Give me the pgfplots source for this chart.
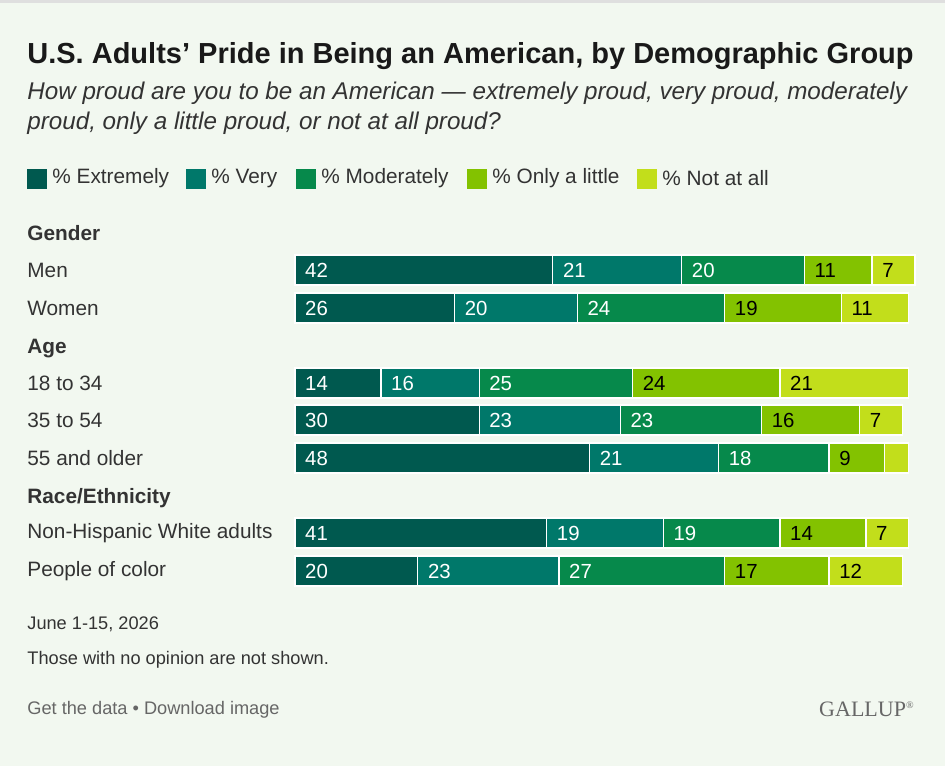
\documentclass[border=0pt]{standalone}
\usepackage{pgfplots}
\pgfplotsset{compat=1.18}
\usepackage{fontspec}
\setmainfont{Liberation Sans}
\newfontfamily\gal{Liberation Serif}
\definecolor{bg}{HTML}{F2F8F0}
\definecolor{cA}{HTML}{00594F}
\definecolor{cB}{HTML}{00786A}
\definecolor{cC}{HTML}{06894B}
\definecolor{cD}{HTML}{83C200}
\definecolor{cE}{HTML}{C2DE1B}
\definecolor{txt}{HTML}{333333}
\definecolor{gr}{HTML}{666666}
\begin{document}
\begin{tikzpicture}[x=0.5pt,y=0.5pt]
\fill[bg] (0,0) rectangle (945,766);
\fill[gray!25] (0,763) rectangle (945,766);
\node[anchor=west,inner sep=0,font=\bfseries\fontsize{14.5}{16}\selectfont,text=black!90] at (27,710) {U.S. Adults' Pride in Being an American, by Demographic Group};
\node[anchor=north west,inner sep=0,font=\itshape\fontsize{12.1}{14.6}\selectfont,text=txt,align=left] at (27,684) {How proud are you to be an American --- extremely proud, very proud, moderately\\proud, only a little proud, or not at all proud?};
\foreach \xx/\cc/\tt in {27/cA/{\% Extremely},186/cB/{\% Very},296/cC/{\% Moderately},467/cD/{\% Only a little},637/cE/{\% Not at all}}{
 \fill[\cc] (\xx,577) rectangle ++(20,20);
 \node[anchor=west,font=\fontsize{10.4}{12}\selectfont,text=txt,inner sep=0] at (\xx+25,588) {\tt};}
\foreach \yy/\tt in {533/Gender,417/Age,268/{Race/Ethnicity}}{
 \node[anchor=west,font=\bfseries\fontsize{10.4}{12}\selectfont,text=txt,inner sep=0] at (27,\yy) {\tt};}
\foreach \yy/\tt in {496/Men,458/Women,383/18 to 34,346/35 to 54,308/55 and older,233/Non-Hispanic White adults,195/People of color}{
 \node[anchor=west,font=\fontsize{10.4}{12}\selectfont,text=txt,inner sep=0] at (27,\yy) {\tt};}
\node[anchor=west,font=\fontsize{9.1}{10}\selectfont,text=txt,inner sep=0] at (27,142) {June 1-15, 2026};
\node[anchor=west,font=\fontsize{9.1}{10}\selectfont,text=txt,inner sep=0] at (27,106) {Those with no opinion are not shown.};
\node[anchor=west,font=\fontsize{9.1}{10}\selectfont,text=gr,inner sep=0] at (27,56) {Get the data \textbullet{} Download image};
\node[anchor=east,font=\gal\fontsize{11}{12}\selectfont,text=gr,inner sep=0] at (915,57) {GALLUP\textsuperscript{\tiny\textregistered}};
\begin{axis}[at={(147.5pt,88pt)},anchor=south west,x=3.0693pt,y=0.5pt,
 xmin=0,xmax=101,ymin=250,ymax=590,y dir=reverse,axis lines=none,
 xbar stacked,bar width=15pt,clip=false]
\addplot[fill=cA,draw=white,line width=0.6pt] coordinates {(42,270)(26,308)(14,383)(30,420)(48,458)(41,533)(20,571)};
\addplot[fill=cB,draw=white,line width=0.6pt] coordinates {(21,270)(20,308)(16,383)(23,420)(21,458)(19,533)(23,571)};
\addplot[fill=cC,draw=white,line width=0.6pt] coordinates {(20,270)(24,308)(25,383)(23,420)(18,458)(19,533)(27,571)};
\addplot[fill=cD,draw=white,line width=0.6pt] coordinates {(11,270)(19,308)(24,383)(16,420)(9,458)(14,533)(17,571)};
\addplot[fill=cE,draw=white,line width=0.6pt] coordinates {(7,270)(11,308)(21,383)(7,420)(4,458)(7,533)(12,571)};
\end{axis}
\foreach \ry/\pa/\pb/\pc/\pd/\pe/\va/\vb/\vc/\vd/\ve in {270/0/42/63/83/94/42/21/20/11/7,308/0/26/46/70/89/26/20/24/19/11,383/0/14/30/55/79/14/16/25/24/21,420/0/30/53/76/92/30/23/23/16/7,458/0/48/69/87/96/48/21/18/9/{},533/0/41/60/79/93/41/19/19/14/7,571/0/20/43/70/87/20/23/27/17/12}{
 \pgfmathsetmacro\yp{766-\ry}
 \node[anchor=west,text=white,font=\fontsize{10.2}{11}\selectfont,inner sep=0] at ({295+(\pa+1.6)*6.1386},\yp) {\va};
 \node[anchor=west,text=white,font=\fontsize{10.2}{11}\selectfont,inner sep=0] at ({295+(\pb+1.6)*6.1386},\yp) {\vb};
 \node[anchor=west,text=white,font=\fontsize{10.2}{11}\selectfont,inner sep=0] at ({295+(\pc+1.6)*6.1386},\yp) {\vc};
 \node[anchor=west,text=black,font=\fontsize{10.2}{11}\selectfont,inner sep=0] at ({295+(\pd+1.6)*6.1386},\yp) {\vd};
 \node[anchor=west,text=black,font=\fontsize{10.2}{11}\selectfont,inner sep=0] at ({295+(\pe+1.6)*6.1386},\yp) {\ve};
}
\end{tikzpicture}
\end{document}
